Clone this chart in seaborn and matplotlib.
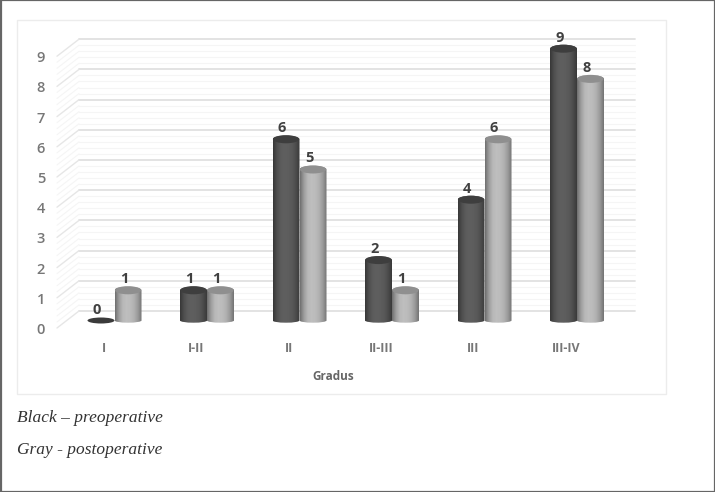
import matplotlib
matplotlib.use("Agg")

import numpy as np
import pandas as pd
import matplotlib.pyplot as plt
import seaborn as sns
from matplotlib.patches import Ellipse, PathPatch, Rectangle
from matplotlib.path import Path

# =====================
# DATA
# =====================
categories = ["I", "I-II", "II", "II-III", "III", "III-IV"]
preoperative = [0, 1, 6, 2, 4, 9]
postoperative = [1, 1, 5, 1, 6, 8]
y_ticks = [0, 1, 2, 3, 4, 5, 6, 7, 8, 9]

df = pd.DataFrame({
    "Gradus": categories * 2,
    "value": preoperative + postoperative,
    "group": ["pre"] * 6 + ["post"] * 6,
})

# =====================
# FIGURE (axes cover the whole image, scaled to match the bars)
# =====================
W, H = 715, 492
PX_X = 92.5
PX_Y = 30.2
X0, Y0 = 114.5, 320.5

sns.set_theme(style="white")
plt.rcParams["font.family"] = ["Open Sans", "DejaVu Sans"]

fig = plt.figure(figsize=(W / 100, H / 100), dpi=100, facecolor="white")
ax = fig.add_axes([0, 0, 1, 1])

sns.barplot(
    data=df, x="Gradus", y="value", hue="group",
    order=categories, hue_order=["pre", "post"],
    palette={"pre": "#555555", "post": "#aaaaaa"},
    width=27 * 2 / PX_X, gap=0, legend=False, ax=ax, zorder=3,
)

xlim = (-X0 / PX_X, (W - X0) / PX_X)
ylim = ((Y0 - H) / PX_Y, Y0 / PX_Y)
ax.set_xlim(xlim)
ax.set_ylim(ylim)
ax.axis("off")


def px(x, y):
    return (x - X0) / PX_X, (Y0 - y) / PX_Y


# =====================
# FRAMES
# =====================
for x, y, w, h, ec, lw in [
    (0.5, 0.5, 714, 491, "#666666", 1.6),
    (16.5, 20.5, 649, 373, "#ececec", 1.0),
]:
    (x0, y1), (x1, y0) = px(x, y), px(x + w, y + h)
    ax.add_patch(Rectangle((x0, y0), x1 - x0, y1 - y0, fc="none", ec=ec, lw=lw, zorder=1))

# =====================
# 3D WALL GRID
# =====================
wall_x0, wall_x1 = px(79, 0)[0], px(635, 0)[0]
side_x0 = px(57, 0)[0]
back = 9.5 / PX_Y   # back wall sits above the bar base
side = 7.5 / PX_Y   # front edge sits below it
nudge = 2 / PX_Y    # va="center" lands a bit high with these fonts
for v in y_ticks:
    ax.plot([wall_x0, wall_x1], [v + back, v + back], color="#e0e0e0", lw=1.3, zorder=1.5)
    ax.plot([side_x0, wall_x0], [v - side, v + back], color="#e6e6e6", lw=1.0, zorder=1.5)
    ax.text(px(41, 0)[0], v - side - nudge, str(v), ha="center", va="center",
            fontsize=10.5, color="#777777", fontweight="semibold", zorder=5)
    if v == y_ticks[-1]:
        continue
    for m in [0.2, 0.4, 0.6, 0.8]:
        ax.plot([wall_x0, wall_x1], [v + m + back, v + m + back], color="#f5f5f5", lw=0.8, zorder=1.4)
        ax.plot([side_x0, wall_x0], [v + m - side, v + m + back], color="#f5f5f5", lw=0.8, zorder=1.4)

# =====================
# CYLINDERS (drawn over the seaborn bars)
# =====================
shade = np.array([0.66, 0.92, 1.08, 1.12, 1.1, 1.04, 0.9, 0.68])
shade = np.interp(np.linspace(0, 7, 64), np.arange(8), shade)
ry = 4 / PX_Y

bars = [p for p in ax.patches if isinstance(p, Rectangle) and p.get_zorder() == 3]
for bar, value, base in zip(bars, preoperative + postoperative,
                            [0x55] * 6 + [0xaa] * 6):
    x = bar.get_x()
    w = bar.get_width()
    xc = x + w / 2
    tone = base / 255
    bar.set_visible(False)
    if value == 0:
        ax.add_patch(Ellipse((xc, 0), w, 2 * 3 / PX_Y, fc="#3a3a3a", ec="none", zorder=4))
    else:
        k = 0.5523
        verts = [
            (x, 0), (x, value),
            (x, value + ry * k), (xc - w / 2 * k, value + ry), (xc, value + ry),
            (xc + w / 2 * k, value + ry), (x + w, value + ry * k), (x + w, value),
            (x + w, 0),
            (x + w, -ry * k * 0.55), (xc + w / 2 * k, -ry * 0.55), (xc, -ry * 0.55),
            (xc - w / 2 * k, -ry * 0.55), (x, -ry * k * 0.55), (x, 0),
        ]
        codes = [Path.MOVETO, Path.LINETO, Path.CURVE4, Path.CURVE4, Path.CURVE4,
                 Path.CURVE4, Path.CURVE4, Path.CURVE4, Path.LINETO,
                 Path.CURVE4, Path.CURVE4, Path.CURVE4,
                 Path.CURVE4, Path.CURVE4, Path.CURVE4]
        clip = PathPatch(Path(verts, codes), fc="none", ec="none", transform=ax.transData)
        ax.add_patch(clip)
        img = np.clip(tone * shade, 0, 1)[None, :]
        im = ax.imshow(img, extent=(x, x + w, -1, value + 1), cmap="gray", vmin=0, vmax=1,
                       aspect="auto", zorder=4, interpolation="bilinear")
        im.set_clip_path(clip)
        top = "#3e3e3e" if base == 0x55 else "#8f8f8f"
        ax.add_patch(Ellipse((xc, value), w * 0.97, 2 * ry, fc=top, ec="none", zorder=4.2))
    ax.text(xc - 4 / PX_X, value + 11 / PX_Y, str(value), ha="center", va="center",
            fontsize=10.5, fontweight="bold", color="#404040", zorder=5)

ax.set_xlim(xlim)
ax.set_ylim(ylim)

# =====================
# TEXT
# =====================
for i, c in enumerate(categories):
    ax.text(i - 11 / PX_X, px(0, 349)[1], c, ha="center", va="center",
            fontsize=9, fontweight="bold", color="#777777", zorder=5)

ax.text(*px(333, 377), "Gradus", ha="center", va="center",
        fontsize=8.5, fontweight="bold", color="#666666", zorder=5)

ax.text(*px(17, 418), "Black \u2013 preoperative", ha="left", va="center",
        fontsize=12.5, style="italic", family=["Liberation Serif"], color="#333333", zorder=5)
ax.text(*px(17, 450), "Gray - postoperative", ha="left", va="center",
        fontsize=12.5, style="italic", family=["Liberation Serif"], color="#333333", zorder=5)

plt.savefig("out.png", dpi=100)
plt.close()
